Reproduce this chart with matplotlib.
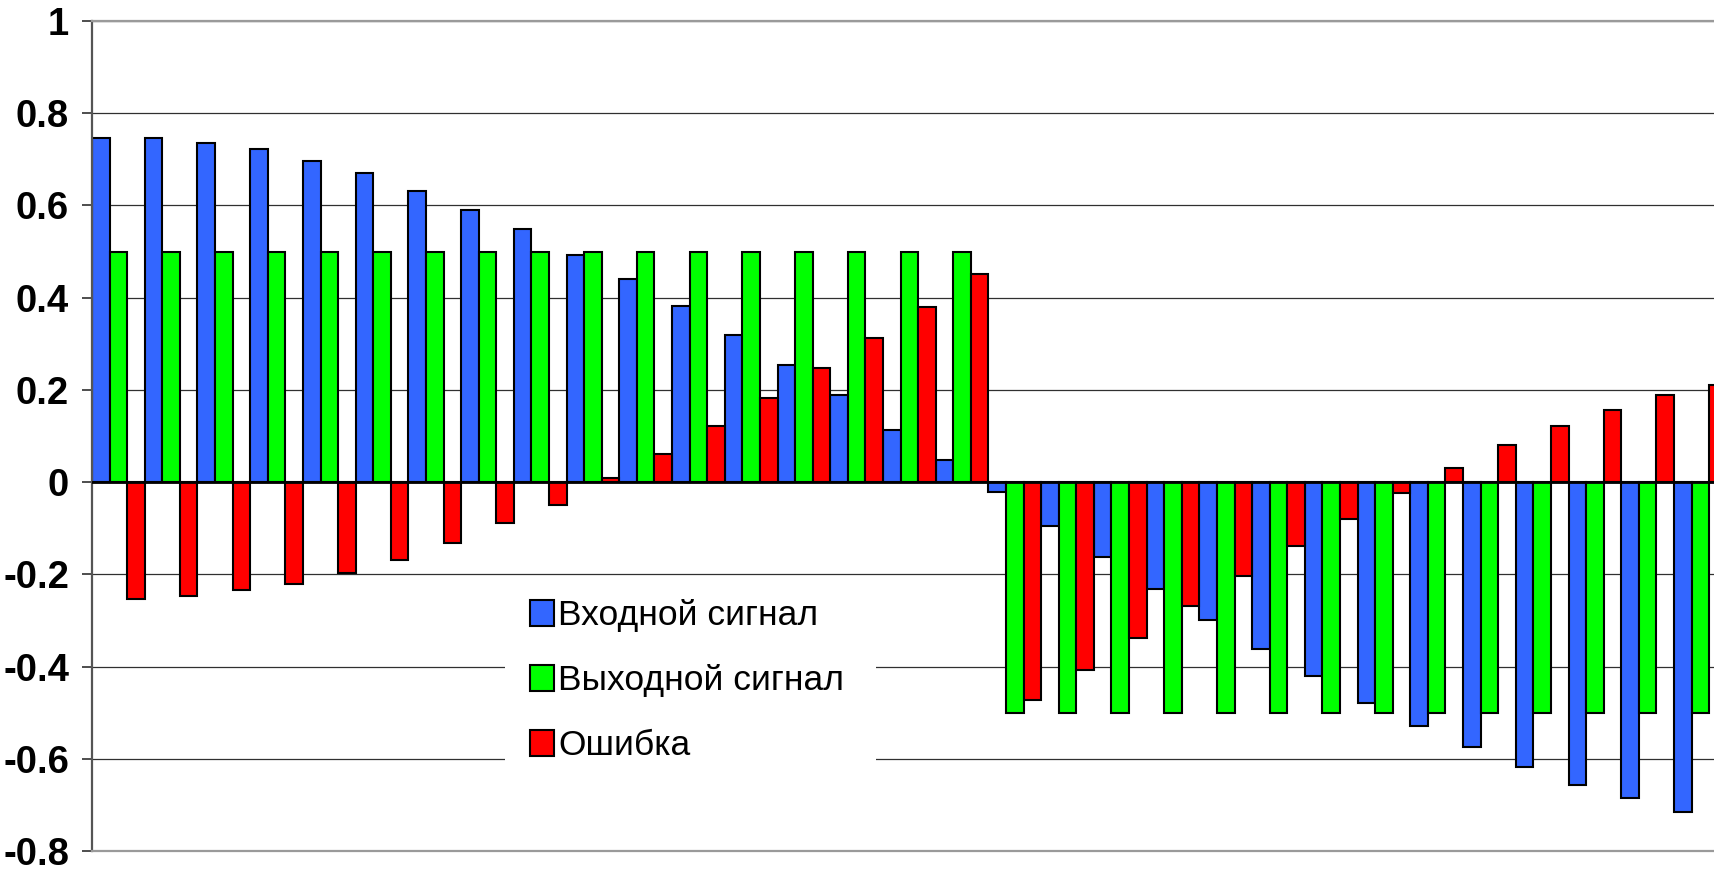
import matplotlib
matplotlib.use("Agg")
import matplotlib.pyplot as plt
import numpy as np
from matplotlib.patches import Rectangle
from matplotlib.font_manager import FontProperties, fontManager

# Signal values for each sample
input_signal = [0.746, 0.746, 0.735, 0.722, 0.697, 0.670, 0.632, 0.591, 0.548, 0.493,
                0.440, 0.382, 0.320, 0.254, 0.189, 0.114, 0.049, -0.022, -0.096, -0.163,
                -0.232, -0.299, -0.361, -0.420, -0.479, -0.528, -0.575, -0.618, -0.656,
                -0.684, -0.715]
output_signal = [0.5, 0.5, 0.5, 0.5, 0.5, 0.5, 0.5, 0.5, 0.5, 0.5,
                 0.5, 0.5, 0.5, 0.5, 0.5, 0.5, 0.5, -0.5, -0.5, -0.5,
                 -0.5, -0.5, -0.5, -0.5, -0.5, -0.5, -0.5, -0.5, -0.5,
                 -0.5, -0.5]
error_signal = [-0.253, -0.247, -0.234, -0.222, -0.198, -0.169, -0.131, -0.088, -0.049, 0.009,
                0.062, 0.122, 0.182, 0.247, 0.312, 0.380, 0.452, -0.472, -0.408, -0.337,
                -0.269, -0.204, -0.139, -0.080, -0.023, 0.031, 0.080, 0.121, 0.157,
                0.188, 0.211]

series_labels = ["Входной сигнал", "Выходной сигнал", "Ошибка"]
series_colors = ["#3366FF", "#00FF00", "#FF0000"]
y_ticks = [-0.8, -0.6, -0.4, -0.2, 0.0, 0.2, 0.4, 0.6, 0.8, 1.0]
y_tick_labels = ["-0.8", "-0.6", "-0.4", "-0.2", "0", "0.2", "0.4", "0.6", "0.8", "1"]

plt.rcParams["font.family"] = ["Liberation Sans", "DejaVu Sans"]

installed = {f.name for f in fontManager.ttflist}
if "Liberation Sans Narrow" in installed:
    tick_font = FontProperties(family="Liberation Sans Narrow", weight="bold", size=31)
else:
    tick_font = FontProperties(family="Liberation Sans", weight="bold", size=27.5)

W, H = 1714, 869
fig = plt.figure(figsize=(W / 100, H / 100), dpi=100)
fig.patch.set_facecolor("white")
ax = fig.add_axes([92 / W, 18 / H, 1634.7 / W, 830 / H])

n = len(input_signal)
x = np.arange(n)
bw = 1 / 3
bars = []
for off, vals, col in zip((-bw, 0, bw), (input_signal, output_signal, error_signal), series_colors):
    bars.append(ax.bar(x + off, vals, width=bw, color=col, edgecolor="black",
                       linewidth=1.5, zorder=2))

ax.set_xlim(-0.5, n - 0.5)
ax.set_ylim(-0.8, 1.0)
ax.set_xticks([])
ax.set_yticks(y_ticks)
ax.set_yticklabels(y_tick_labels, fontproperties=tick_font)
ax.tick_params(axis="y", length=7, width=1.3, color="#404040", pad=9.5)

ax.set_axisbelow(True)
ax.yaxis.grid(True, color="#303030", linewidth=0.9)
ax.axhline(0, color="black", linewidth=2, zorder=3)

ax.spines["right"].set_visible(False)
ax.spines["top"].set_color("#9a9a9a")
ax.spines["top"].set_linewidth(1.6)
ax.spines["bottom"].set_color("#9a9a9a")
ax.spines["bottom"].set_linewidth(1.6)
ax.spines["left"].set_color("#555555")
ax.spines["left"].set_linewidth(1.6)

# white backing behind the legend
ax.add_patch(Rectangle((505 / W, (H - 780) / H), (876 - 505) / W, (780 - 582) / H,
                       transform=fig.transFigure, facecolor="white", edgecolor="none",
                       zorder=4))

leg_size = 25.5
leg_px = leg_size * 100 / 72
leg = ax.legend([b[0] for b in bars], series_labels, loc="upper left",
                bbox_to_anchor=(530 / W, (H - 599) / H), bbox_transform=fig.transFigure,
                frameon=False, borderpad=0, borderaxespad=0,
                handlelength=24 / leg_px, handleheight=27 / leg_px, handletextpad=0.12,
                labelspacing=0.91, prop=FontProperties(family="Liberation Sans", size=leg_size))
leg.set_zorder(5)

fig.savefig("out.png", dpi=100)
